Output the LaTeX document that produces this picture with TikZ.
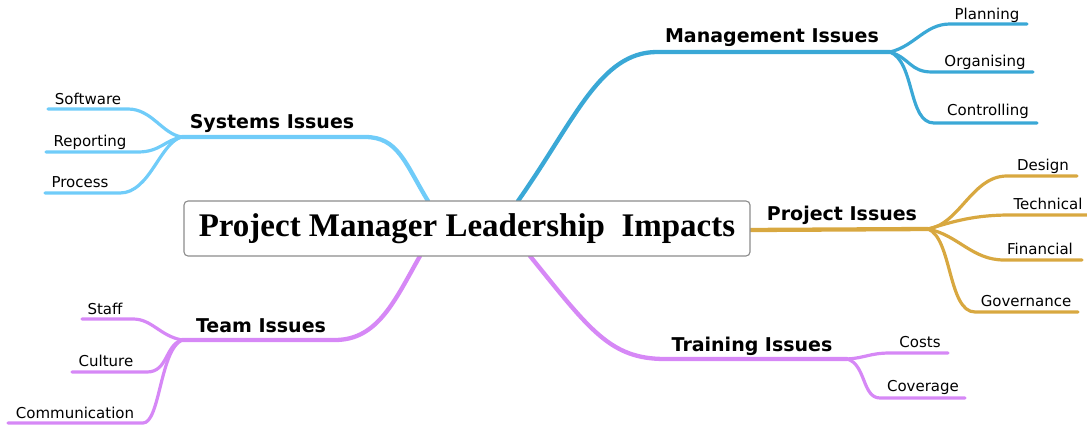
\documentclass[tikz,border=0pt]{standalone}
\usepackage{fontspec}
\setmainfont{Liberation Serif}
\newfontfamily\mapsans{DejaVu Sans}
\definecolor{mgmtblue}{HTML}{3AA8D6}
\definecolor{sysblue}{HTML}{70CCF9}
\definecolor{projgold}{HTML}{D8A840}
\definecolor{teamviolet}{HTML}{D688F6}

\begin{document}
\begin{tikzpicture}[x=1pt, y=-1pt,
    branch/.style={line width=4.3pt, line cap=round},
    twig/.style={line width=3.2pt, line cap=round},
    topic/.style={inner sep=0pt, font=\mapsans\fontsize{19}{22}\selectfont\bfseries},
    leaf/.style={inner sep=0pt, font=\mapsans\fontsize{15}{18}\selectfont},
    titlebox/.style={draw=black!45, line width=1.1pt, fill=white, rounded corners=4pt,
        minimum width=566pt, minimum height=55pt, inner sep=0pt,
        font=\fontsize{33}{38}\selectfont\bfseries}]
    \useasboundingbox (0,0) rectangle (1087,425);

    % anchor points on the centre box and the forks
    \coordinate (mgmtroot) at (518,201);
    \coordinate (sysroot) at (428,201);
    \coordinate (projroot) at (750,230);
    \coordinate (teamroot) at (420,256);
    \coordinate (trainroot) at (530,256);
    \coordinate (mgmtfork) at (890,52);
    \coordinate (sysfork) at (182,137);
    \coordinate (projfork) at (928,229);
    \coordinate (teamfork) at (182,340);
    \coordinate (trainfork) at (847,359);

    % leaf ends
    \coordinate (planend) at (1027,24);
    \coordinate (orgend) at (1033,72);
    \coordinate (ctrlend) at (1037,123);
    \coordinate (softend) at (48,109);
    \coordinate (reptend) at (46,152);
    \coordinate (procend) at (45,193);
    \coordinate (desend) at (1077,176);
    \coordinate (techend) at (1087,215);
    \coordinate (finend) at (1082,260);
    \coordinate (govend) at (1078,312);
    \coordinate (staffend) at (82,319);
    \coordinate (cultend) at (72,372);
    \coordinate (commend) at (8,423);
    \coordinate (costend) at (948,353);
    \coordinate (covend) at (965,398);

    % Management Issues
    \draw[branch, mgmtblue] (mgmtroot) .. controls (575,120) and (600,52) .. (657,52) -- (mgmtfork);
    \draw[twig, mgmtblue] (mgmtfork) .. controls (915,46) and (925,24) .. (950,24) -- (planend);
    \draw[twig, mgmtblue] (mgmtfork) .. controls (910,58) and (910,72) .. (932,72) -- (orgend);
    \draw[twig, mgmtblue] (mgmtfork) .. controls (915,62) and (908,123) .. (934,123) -- (ctrlend);

    % Systems Issues
    \draw[branch, sysblue] (sysroot) .. controls (405,163) and (398,137) .. (365,137) -- (sysfork);
    \draw[twig, sysblue] (sysfork) .. controls (162,134) and (152,109) .. (128,109) -- (softend);
    \draw[twig, sysblue] (sysfork) .. controls (165,140) and (160,152) .. (138,152) -- (reptend);
    \draw[twig, sysblue] (sysfork) .. controls (160,142) and (150,193) .. (120,193) -- (procend);

    % Project Issues
    \draw[branch, projgold] (projroot) -- (projfork);
    \draw[twig, projgold] (projfork) .. controls (960,224) and (972,176) .. (1007,176) -- (desend);
    \draw[twig, projgold] (projfork) .. controls (955,221) and (975,215) .. (1010,215) -- (techend);
    \draw[twig, projgold] (projfork) .. controls (958,235) and (972,260) .. (1004,260) -- (finend);
    \draw[twig, projgold] (projfork) .. controls (952,238) and (948,312) .. (975,312) -- (govend);

    % Team Issues
    \draw[branch, teamviolet] (teamroot) .. controls (395,300) and (378,340) .. (335,340) -- (teamfork);
    \draw[twig, teamviolet] (teamfork) .. controls (160,336) and (152,319) .. (133,319) -- (staffend);
    \draw[twig, teamviolet] (teamfork) .. controls (165,345) and (168,372) .. (147,372) -- (cultend);
    \draw[twig, teamviolet] (teamfork) .. controls (160,350) and (160,423) .. (143,423) -- (commend);

    % Training Issues
    \draw[branch, teamviolet] (trainroot) .. controls (590,330) and (610,359) .. (665,359) -- (trainfork);
    \draw[twig, teamviolet] (trainfork) .. controls (865,358) and (870,353) .. (890,353) -- (costend);
    \draw[twig, teamviolet] (trainfork) .. controls (866,364) and (862,398) .. (880,398) -- (covend);

    % centre box
    \node[titlebox] (main) at (467,228.5) {Project Manager Leadership\ \ Impacts};

    % branch labels
    \node[topic] (mgmt) at (772,38) {Management Issues};
    \node[topic] (sys) at (272,123) {Systems Issues};
    \node[topic] (proj) at (842,215) {Project Issues};
    \node[topic] (team) at (261,326) {Team Issues};
    \node[topic] (train) at (752,346) {Training Issues};

    % leaf labels
    \node[leaf] (plan) at (987,15) {Planning};
    \node[leaf] (org) at (985,62) {Organising};
    \node[leaf] (ctrl) at (988,111) {Controlling};
    \node[leaf] (soft) at (88,99) {Software};
    \node[leaf] (rept) at (90,142) {Reporting};
    \node[leaf] (proc) at (80,182) {Process};
    \node[leaf] (des) at (1043,166) {Design};
    \node[leaf] (tech) at (1048,204) {Technical};
    \node[leaf] (fin) at (1040,249) {Financial};
    \node[leaf] (gov) at (1026,301) {Governance};
    \node[leaf] (staff) at (105,309) {Staff};
    \node[leaf] (cult) at (106,361) {Culture};
    \node[leaf] (comm) at (75,413) {Communication};
    \node[leaf] (cost) at (920,342) {Costs};
    \node[leaf] (cov) at (923,387) {Coverage};
\end{tikzpicture}
\end{document}
